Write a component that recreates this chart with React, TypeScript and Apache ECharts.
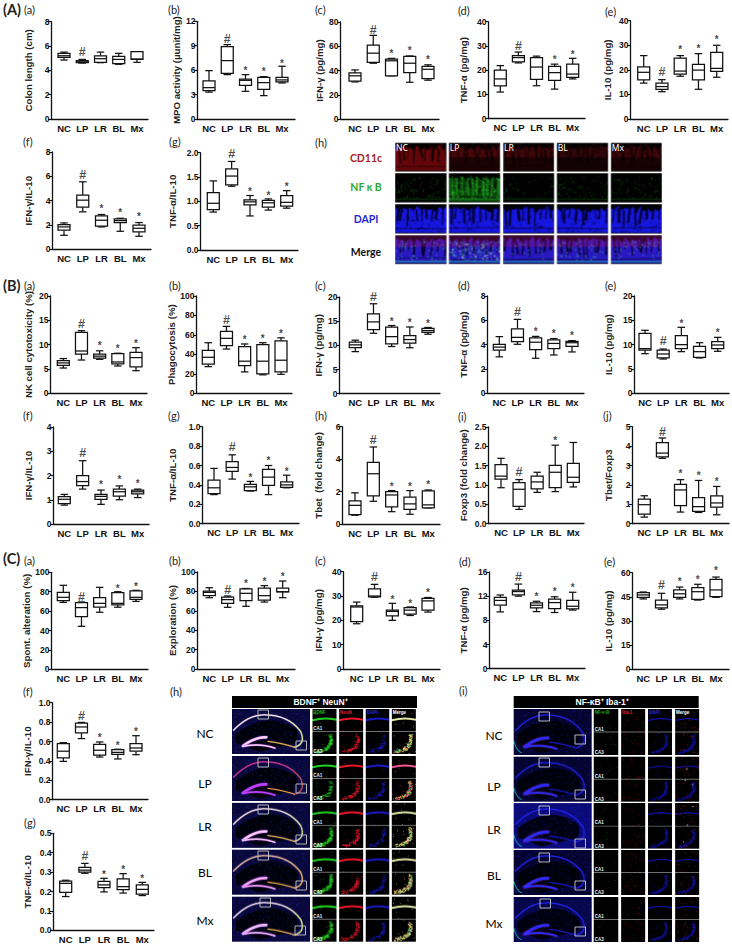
import React, { useEffect, useRef } from "react";
import * as echarts from "echarts";

const groups = ["NC", "LP", "LR", "BL", "Mx"];
const markGlyphs = ["*", "#", "*", "*", "*"];

// Each row: min, q1, median, q3, max
const Aa = [[4.85,5.07,5.2,5.4,5.5],[4.6,4.63,4.7,4.8,4.9],[4.63,4.66,4.96,5.2,5.5],[4.5,4.55,4.9,5.15,5.4],[4.66,4.9,4.93,5.53,5.53]];
const AaMarks = [null,5.5,null,null,null];
const Ab = [[3.3,3.5,3.85,4.67,5.94],[5.45,5.6,7.17,8.9,9.14],[3.4,4.14,4.75,4.9,5.45],[2.87,3.65,4.47,5.12,5.2],[4.43,4.55,4.8,5.12,6.48]];
const AbMarks = [null,9.8,6.1,5.9,7.0];
const Ac = [[30.6,31.2,35.6,38,40.5],[46,46.6,54.3,61,69],[35.6,35.6,48,49.4,50],[30.3,38.3,46,51.6,52],[32,33.4,41,43.3,44.7]];
const AcMarks = [null,73,55,57,50];
const Ad = [[11,13.5,16.4,20,21.9],[23,23.4,25.2,26,27.5],[13.6,16.2,21.3,25.2,25.8],[12.2,15.8,19,21.6,22.5],[16.4,17,18.4,22.5,24.9]];
const AdMarks = [null,30,null,25,27];
const Ae = [[14.6,15.9,19,21.2,25.8],[11.1,12.1,13.2,14.6,16],[17.4,18.3,19.5,24.8,25.8],[12.1,15.9,19.9,22.2,26.6],[17,19.4,20.6,27.1,30]];
const AeMarks = [null,19.3,28.5,29,32.8];
const Af = [[1.15,1.57,1.84,2.03,2.17],[3.08,3.46,4.04,4.45,5.55],[1.84,1.9,2.39,2.75,2.86],[1.48,2.2,2.36,2.5,2.55],[1.07,1.43,1.73,1.98,2.2]];
const AfMarks = [null,6.1,3.4,3.1,2.75];
const Ag = [[0.78,0.83,0.96,1.18,1.42],[1.31,1.34,1.52,1.67,1.82],[0.7,0.93,0.99,1.03,1.12],[0.82,0.88,0.97,1.02,1.05],[0.86,0.9,0.98,1.12,1.22]];
const AgMarks = [null,1.97,1.22,1.15,1.32];

const Ba = [[5.15,5.7,6.2,6.67,7.1],[6.8,8.04,8.66,12.5,12.85],[6.94,7.2,7.6,8,8.7],[5.57,6,6.4,8.1,8.2],[4.6,5.4,7.3,8.4,9.35]];
const BaMarks = [null,14.2,9.9,9.3,10.4];
const Bb = [[27.4,30,37,44,52],[45.5,49,56.5,63.7,68.8],[22,28.4,33,48,50.7],[19,20,33,50,52],[19.5,22,34,53.8,57]];
const BbMarks = [null,75,56.5,57.5,62.7];
const Bc = [[8.7,9.55,10.1,10.65,11.07],[12.5,13.26,14.85,16.5,18.6],[9.76,10.3,11.8,13.75,14.1],[9.5,10.45,11.2,12,13.8],[12.3,12.7,13.06,13.5,13.7]];
const BcMarks = [null,19.9,15.2,14.85,14.7];
const Bd = [[3,3.56,3.8,4.03,4.66],[4.03,4.25,4.6,5.3,6.08],[2.88,3.6,4.2,4.55,4.68],[3.15,3.67,4.1,4.4,4.5],[3.4,3.86,4.16,4.27,4.33]];
const BdMarks = [null,6.7,5.2,5,4.85];
const Be = [[8.15,8.9,9.18,12.33,12.95],[7.05,7.26,8.08,8.9,9.1],[8.56,9.18,10,11.85,13.56],[7.26,7.4,8.56,9.66,10.4],[8.63,9.18,9.93,10.6,11.5]];
const BeMarks = [null,10.75,14.5,null,12.67];
const Bf = [[0.78,0.84,1.02,1.13,1.22],[1.44,1.58,1.75,2,2.61],[0.81,1.02,1.14,1.22,1.4],[1,1.15,1.33,1.44,1.57],[1.09,1.24,1.33,1.4,1.44]];
const BfMarks = [null,2.94,1.66,1.86,1.72];
const Bg = [[0.3,0.31,0.37,0.45,0.57],[0.46,0.54,0.58,0.64,0.71],[0.337,0.34,0.38,0.405,0.436],[0.3,0.395,0.48,0.56,0.6],[0.37,0.375,0.4,0.43,0.5]];
const BgMarks = [null,0.79,0.49,0.66,0.55];
const Bh = [[0.54,0.58,1.15,1.42,1.92],[1.4,1.73,3.1,3.8,4.75],[0.76,1.05,1.79,2,2.06],[0.6,0.9,1.24,1.65,2.06],[0.99,0.99,1.18,2.04,2.1]];
const BhMarks = [null,5.18,2.4,2.4,2.5];
const Bi = [[0.93,1.15,1.23,1.53,1.69],[0.37,0.45,0.89,1.06,1.14],[0.81,0.9,1.08,1.23,1.33],[0.83,0.93,1.33,1.51,2.03],[0.95,1.07,1.2,1.56,2.1]];
const BiMarks = [null,1.33,null,2.17,null];
const Bj = [[0.34,0.5,0.98,1.27,1.44],[3.37,3.45,3.64,4.18,4.42],[0.6,0.93,1.74,2.03,2.27],[0.58,0.64,0.88,1.34,2.23],[0.46,0.86,1.07,1.44,1.92]];
const BjMarks = [null,4.74,2.63,2.54,2.25];

const Ca = [[69,70.8,74.2,79.4,86.6],[44.3,54.3,63.6,68.7,69.4],[58.8,64,68,73.9,84.5],[64,66.3,68,79,80],[70,72,74.2,80.8,81.4]];
const CaMarks = [null,75,null,84.5,86];
const Cb = [[73.5,75.6,79,80.4,83.8],[63.6,67.7,71.5,74.2,75.3],[64.6,70.4,78,82.5,83],[69,71,75.6,83.5,86],[73.5,79.4,79.7,83.5,90.7]];
const CbMarks = [null,81.4,89,91,95.9];
const Cc = [[18.6,19.5,25.5,26,27.5],[29.5,29.6,30,32.9,34.8],[20,21.8,23.7,24.2,27],[22,22.6,24.2,25.2,25.5],[23.4,24.2,28,29,29.4]];
const CcMarks = [null,37.7,29,27.5,31.7];
const Cd = [[9.4,10.5,11.3,11.8,12.2],[12,12.2,12.76,13,14],[9.45,10.05,10.5,10.9,11.16],[9.3,9.94,10.94,11.5,11.9],[9.7,9.9,10.33,11.3,12.65]];
const CdMarks = [null,15.1,12.1,12.87,13.6];
const Ce = [[43.7,44.7,46.2,47.6,48],[37.3,38.1,40,43,47.2],[43.7,44.7,46.9,49.3,51.1],[43,43.5,48.2,50.7,52.8],[44.7,45.1,49.3,55.9,57.3]];
const CeMarks = [null,52.4,55,56.5,61.7];
const Cf = [[0.395,0.43,0.5,0.578,0.588],[0.63,0.69,0.75,0.79,0.797],[0.44,0.46,0.51,0.57,0.595],[0.42,0.467,0.488,0.515,0.52],[0.464,0.5,0.533,0.578,0.66]];
const CfMarks = [null,0.86,0.65,0.574,0.71];
const Cg = [[0.174,0.196,0.242,0.254,0.258],[0.294,0.3,0.31,0.325,0.345],[0.198,0.22,0.234,0.252,0.268],[0.192,0.21,0.225,0.265,0.292],[0.179,0.187,0.211,0.234,0.247]];
const CgMarks = [null,0.385,0.294,0.32,0.273];

// data, marks, title, yMax, yStep, decimals, then layout: axisX, endX, top, zero, firstBox, lastBox, titleOffset
const panels: any[] = [
  [Aa,AaMarks,"Colon length (cm)",8,2,0,51,148,21.7,119,64,137,23],
  [Ab,AbMarks,"MPO activity (µunit/mg)",12,3,0,197,295,21.3,119,209,282,21],
  [Ac,AcMarks,"IFN-γ (pg/mg)",80,20,0,340,439,22,119,355,428,21],
  [Ad,AdMarks,"TNF-α (pg/mg)",40,10,0,488,585,21.7,118.7,500.3,572.7,25],
  [Ae,AeMarks,"IL-10 (pg/mg)",40,10,0,630,728,20.7,119,643.7,716.7,23],
  [Af,AfMarks,"IFN-γ/IL-10",8,2,0,52,151,152,249.3,64,139,24],
  [Ag,AgMarks,"TNF-α/IL-10",2,0.5,1,200,298,152.7,250,213.3,286.7,28],
  [Ba,BaMarks,"NK cell cytotoxicity (%)",20,5,0,50,147,296,393,63.3,136,22],
  [Bb,BbMarks,"Phagocytosis (%)",100,20,0,196,292,296,393.3,208.3,281,24],
  [Bc,BcMarks,"IFN-γ (pg/mg)",20,5,0,339,440,297,393.7,355.3,428,21],
  [Bd,BdMarks,"TNF-α (pg/mg)",8,2,0,487,584,296,393.3,499.3,572,24],
  [Be,BeMarks,"IL-10 (pg/mg)",20,5,0,634,729,296,393.3,645,717.7,26],
  [Bf,BfMarks,"IFN-γ/IL-10",4,1,0,53,149,427,524,64.3,137.7,25],
  [Bg,BgMarks,"TNF-α/IL-10",1,0.2,1,202,299,426.7,523.7,214,286.7,30],
  [Bh,BhMarks,"Tbet  (fold change)",6,2,0,342,440,426.7,524,355,428.3,24],
  [Bi,BiMarks,"Foxp3 (fold change)",2.5,0.5,1,488,584,427,523.7,501,573.3,25],
  [Bj,BjMarks,"Tbet/Foxp3",5,1,0,632,729,426.7,523.7,644.3,716.7,24],
  [Ca,CaMarks,"Spont. alteration (%)",100,20,0,51,148,572.3,669.3,63.3,136,23],
  [Cb,CbMarks,"Exploration (%)",100,20,0,197,295,572,669,209.3,282.7,25],
  [Cc,CcMarks,"IFN-γ (pg/mg)",40,10,0,343,440,571.7,669,356.7,428,25],
  [Cd,CdMarks,"TNF-α (pg/mg)",16,4,0,489,585,572,668.7,500.3,572.7,26],
  [Ce,CeMarks,"IL-10 (pg/mg)",60,15,0,632,729,572.7,669.3,643.3,716,24],
  [Cf,CfMarks,"IFN-γ/IL-10",1,0.2,1,52,148,702.7,799.7,63.3,136,25],
  [Cg,CgMarks,"TNF-α/IL-10",0.5,0.1,1,53,154,833.3,930.3,65.7,142.3,26],
];

const letterLabels: any[] = [
  ["(A)",3,9,true],["(a)",24,9.5],["(b)",168,9.5],["(c)",315,9.5],["(d)",458,10],["(e)",605,11],
  ["(f)",23,141],["(g)",169,141],["(h)",315,142],
  ["(B)",3,285,true],["(a)",24,285],["(b)",169,285],["(c)",315,285],["(d)",458,285],["(e)",605,285],
  ["(f)",23,415],["(g)",168,415],["(h)",315,415],["(i)",458,416],["(j)",603,415],
  ["(C)",3,558,true],["(a)",24,560],["(b)",169,560],["(c)",315,560],["(d)",459,561],["(e)",604,561],
  ["(f)",23,691],["(g)",24,822],["(h)",170,691],["(i)",459,690],
];

const colonChannels = [["CD11c","#a81e22",158],["NF κ B","#2ea82e",187],["DAPI","#2626d0",219],["Merge","#111111",252]];
const colonCols = [[395,51.7],[448.7,51.6],[503,51.3],[556.7,51.6],[610.7,51.3]];
const colonRows = [[142.7,29],[173,29.7],[204,29.7],[235,29.3]];
const colonGreen = [0.35,1,0.16,0.35,0.3];
const colonRed = [0.9,0.6,0.55,0.4,0.5];

const hipRowsH = [[709,45,733],[756,45,783],[802.7,45.3,826],[849.7,45,872],[896.7,45,920]];
const hipRowsI = [[709,46,735],[756.7,45,786],[803,45.7,829],[850,45,875],[897,45,923]];
const hipColsH = [[312.3,24.4,"BDNF","#22b022"],[339,24.3,"NeuN","#d8202c"],[365.7,23.6,"DAPI","#2a2ae0"],[391.7,24.3,"Merge","#ffffff"]];
const hipColsI = [[593.7,24.6,"NF-κ B","#22a022"],[621,24.3,"Iba-1","#d8202c"],[648,24,"DAPI","#2a2ae0"],[675,24.3,"Merge","#ffffff"]];
const hipBoxesH = [[[258,710],[296,741]],[[258,758],[296,784]],[[258,805],[296,835]],[[258,851],[296,881]],[[260,898],[295,926]]];
const hipBoxesI = [[[539,712],[575,735]],[[539,758],[575,790]],[[539,806],[575,839]],[[539,853],[575,881]],[[540,899],[575,927]]];
const hipColorsH = [
  ["#f8e0f0","#c8f050","#ffd0ff"],["#c03090","#a06018","#c040ff"],["#f8dce8","#b8e048","#ffccff"],
  ["#e8b8a8","#e0a828","#f8a8f8"],["#f0dcf0","#c0e838","#f4c0ff"],
];
const hipBgI = ["#04042e","#04042e","#0a0a78","#04042e","#060648"];

function noise(seed: number) {
  let s = seed * 7919 + 13;
  return () => { s = (s * 16807) % 2147483647; return s / 2147483647; };
}
// Draws a decorative micrograph texture, then softens it like the resampled photo.
function paint(w: number, h: number, seed: number, draw: (c: CanvasRenderingContext2D, r: () => number) => void, blur = 1) {
  const cv = document.createElement("canvas");
  cv.width = w * 2; cv.height = h * 2;
  const c = cv.getContext("2d") as CanvasRenderingContext2D;
  c.scale(2, 2);
  draw(c, noise(seed));
  const out = document.createElement("canvas");
  out.width = cv.width; out.height = cv.height;
  const o = out.getContext("2d") as CanvasRenderingContext2D;
  o.filter = `blur(${blur}px)`;
  o.drawImage(cv, 0, 0);
  return out.toDataURL();
}
function dots(c: any, r: any, n: number, color: string, x0: number, y0: number, x1: number, y1: number, sz = 0.6) {
  c.fillStyle = color;
  for (let i = 0; i < n; i++) c.fillRect(x0 + r() * (x1 - x0), y0 + r() * (y1 - y0), sz, sz);
}
function crypts(c: any, r: any, w: number, h: number, color: string, lum: string) {
  c.fillStyle = color;
  c.beginPath();
  c.moveTo(0, h * 0.35);
  for (let i = 0; i <= 14; i++) c.lineTo((i / 14) * w, h * (0.04 + (i % 2) * 0.12 + r() * 0.14));
  c.lineTo(w, h * 0.96); c.lineTo(0, h * 0.96); c.closePath(); c.fill();
  c.strokeStyle = lum; c.lineCap = "round";
  for (let i = 0; i < 9; i++) {
    const x = ((i + 0.5 + (r() - 0.5) * 0.5) / 9) * w;
    c.lineWidth = 0.9 + r() * 1.6;
    c.beginPath(); c.moveTo(x, h * (0.05 + r() * 0.2));
    c.lineTo(x + (r() - 0.5) * 5, h * (0.45 + r() * 0.3)); c.stroke();
  }
  c.lineWidth = 0.7;
  c.beginPath(); c.moveTo(0, h * (0.78 + r() * 0.06)); c.lineTo(w, h * (0.78 + r() * 0.06)); c.stroke();
}
function colonCell(row: number, col: number, w: number, h: number) {
  return paint(w, h, row * 10 + col + 3, (c, r) => {
    c.fillStyle = "#000"; c.fillRect(0, 0, w, h);
    if (row === 0) {
      crypts(c, r, w, h, `rgb(${Math.round(110 * colonRed[col])},6,9)`, "#120001");
      dots(c, r, 70, "#801216", 0, 0, w, h * 0.6, 0.8);
      if (col > 0) { c.fillStyle = "rgba(0,0,0,0.55)"; c.fillRect(0, h * 0.5, w, h * 0.5); }
    } else if (row === 1) {
      const g = colonGreen[col];
      if (g > 0.8) {
        crypts(c, r, w, h, "#0a4a0c", "#010601");
        c.strokeStyle = "#24b824"; c.lineWidth = 0.9;
        for (let i = 0; i < 10; i++) {
          const x = ((i + 0.3 + r() * 0.4) / 10) * w;
          c.beginPath(); c.moveTo(x, h * (0.12 + r() * 0.15)); c.lineTo(x + (r() - 0.5) * 2, h * (0.7 + r() * 0.12)); c.stroke();
        }
      }
      dots(c, r, Math.round(g > 0.8 ? 60 : 170 * g), g > 0.8 ? "#38e038" : "#1c9a1c", 0, h * 0.12, w, h * 0.85, g > 0.8 ? 1 : 0.8);
      c.fillStyle = g > 0.8 ? "#1c9020" : "#0c3c0c"; c.fillRect(0, h * 0.86, w, 1);
    } else if (row === 2) {
      crypts(c, r, w, h, "#1616e0", "#000028");
      dots(c, r, 70, "#00001c", 0, h * 0.1, w, h * 0.95, 1);
    } else {
      crypts(c, r, w, h, "#2a18c0", "#060230");
      c.fillStyle = "rgba(170,20,120,0.32)"; c.fillRect(0, 0, w, h * 0.4);
      c.fillStyle = "#1a98a8"; c.fillRect(0, h * 0.88, w, 1.3);
      dots(c, r, Math.round(110 * colonGreen[col]), "#3adfa0", 0, h * 0.2, w, h * 0.85, 0.9);
      if (col === 1) dots(c, r, 22, "#ffffff", 2, h * 0.25, w, h * 0.8, 1.1);
    }
  });
}
function curve(c: any, w: number, h: number, pts: number[][]) {
  c.beginPath();
  c.moveTo(pts[0][0] * w, pts[0][1] * h);
  for (let i = 1; i + 1 < pts.length; i += 2)
    c.quadraticCurveTo(pts[i][0] * w, pts[i][1] * h, pts[i + 1][0] * w, pts[i + 1][1] * h);
}
function hippocampus(w: number, h: number, seed: number, bg: string, speck: string, arcA: string, arcB: string, dg: string, moss: string, cyan: boolean, thin: number) {
  return paint(w, h, seed, (c, r) => {
    c.fillStyle = bg; c.fillRect(0, 0, w, h);
    dots(c, r, 380, speck, 0, 0, w, h, 0.6);
    c.fillStyle = "rgba(0,0,6,0.88)";
    c.beginPath();
    c.moveTo(w * 0.05, h * 0.55); c.quadraticCurveTo(w * 0.45, h * 0.02, w * 0.82, h * 0.45);
    c.quadraticCurveTo(w * 0.88, h * 0.7, w * 0.78, h * 0.78); c.lineTo(w * 0.35, h * 0.95); c.lineTo(w * 0.05, h * 0.75);
    c.closePath(); c.fill();
    dots(c, r, 70, speck, w * 0.2, h * 0.3, w * 0.8, h * 0.75, 0.6);
    const g = c.createLinearGradient(0, 0, w, 0);
    g.addColorStop(0, arcA); g.addColorStop(0.65, arcA); g.addColorStop(1, arcB);
    c.lineCap = "round"; c.strokeStyle = g; c.lineWidth = thin; c.shadowColor = arcA; c.shadowBlur = 1.5;
    curve(c, w, h, [[0.02,0.47],[0.2,0.14],[0.4,0.13],[0.72,0.12],[0.88,0.5],[0.95,0.78],[0.8,0.85]]);
    c.stroke();
    c.strokeStyle = moss; c.lineWidth = 1;
    curve(c, w, h, [[0.46,0.72],[0.65,0.76],[0.8,0.85]]);
    c.stroke();
    c.shadowColor = "#9030e0"; c.shadowBlur = 3;
    c.strokeStyle = dg; c.lineWidth = 2.6;
    curve(c, w, h, [[0.14,0.82],[0.3,0.62],[0.44,0.63]]);
    c.stroke();
    c.lineWidth = 1.6;
    curve(c, w, h, [[0.14,0.83],[0.36,0.75],[0.55,0.87]]);
    c.stroke();
    c.shadowBlur = 0;
    if (cyan) {
      c.strokeStyle = "#20d0c0"; c.lineWidth = 0.8;
      curve(c, w, h, [[0,0.7],[0.03,0.9],[0.1,0.95]]);
      c.stroke();
    }
  }, 0.7);
}
function arcDots(c: any, r: any, w: number, h: number, n: number, color: string, spread: number, sz: number) {
  c.fillStyle = color;
  for (let i = 0; i < n; i++) {
    const t = r();
    const px = (1 - t) * (1 - t) * 0.1 + 2 * t * (1 - t) * 0.9 + t * t * 0.72;
    const py = (1 - t) * (1 - t) * 0.94 + 2 * t * (1 - t) * 0.9 + t * t * 0.56;
    c.fillRect(px * w + (r() - 0.5) * spread, py * h + (r() - 0.5) * spread, sz, sz);
  }
}
function hipSmall(kind: "h" | "i", col: number, w: number, h: number, seed: number, row: number) {
  return paint(w, h, seed, (c, r) => {
    c.fillStyle = "#000"; c.fillRect(0, 0, w, h);
    const half = h / 2;
    const colorsH = ["#20d020", "#f01828", "#1a1ac8", row === 1 ? "#f05890" : "#e0e4a8"];
    const colorsI = ["#000000", "#000000", "#1212a8", "#1212a8"];
    const stroke = kind === "h" ? colorsH[col] : colorsI[col];
    c.strokeStyle = stroke; c.lineCap = "round";
    c.lineWidth = kind === "h" ? 2 : 1.2;
    c.beginPath(); c.moveTo(0, half * 0.5); c.quadraticCurveTo(w * 0.5, half * 0.35, w, half * 0.48); c.stroke();
    if (kind === "h") {
      const dens = [row === 1 ? 70 : 150, 90, 70, 90][col];
      arcDots(c, r, w, h, dens, stroke, 3.4, 0.9);
      dots(c, r, 14, colorsH[col], 0, 0, w, h, 0.7);
      if (col === 3) {
        arcDots(c, r, w, h, 30, "#f8e840", 3.4, 0.9);
        arcDots(c, r, w, h, 20, "#f04858", 3.6, 0.9);
        arcDots(c, r, w, h, 20, "#30d058", 3.6, 0.9);
      }
    } else {
      if (col >= 2) arcDots(c, r, w, h, 120, "#0e0e90", 2.6, 1);
      dots(c, r, col === 0 ? 12 : 45, col === 0 ? "#0e600e" : col === 1 ? "#801018" : col === 2 ? "#121280" : "#901a30", 0, 0, w, h, 0.8);
      if (col === 3 && (row === 1 || row === 2)) dots(c, r, 3, "#ffffff", 4, 2, w - 2, h - 4, 1);
    }
    c.fillStyle = "#8a8a8a"; c.fillRect(0, half - 0.4, w, 0.8);
  }, 0.6);
}

function renderBox(params: any, api: any) {
  const i = api.value(0);
  const x = api.coord([i, 0])[0];
  const y = (k: number) => api.coord([i, api.value(k)])[1];
  const [lo, q1, med, q3, hi] = [y(1), y(2), y(3), y(4), y(5)];
  const ls = { stroke: "#111", lineWidth: 1.25, fill: "none" };
  const bw = 12, cap = 7.5;
  const line = (x1: number, y1: number, x2: number, y2: number) => ({ type: "line", shape: { x1, y1, x2, y2 }, style: ls });
  return {
    type: "group",
    children: [
      line(x, hi, x, q3), line(x, q1, x, lo),
      line(x - cap / 2, hi, x + cap / 2, hi), line(x - cap / 2, lo, x + cap / 2, lo),
      { type: "rect", shape: { x: x - bw / 2, y: q3, width: bw, height: q1 - q3 }, style: { stroke: "#111", lineWidth: 1.25, fill: "#fff" } },
      line(x - bw / 2, med, x + bw / 2, med),
    ],
  };
}

function buildOption() {
  const grid: any[] = [], xAxis: any[] = [], yAxis: any[] = [], series: any[] = [];
  const font = "Liberation Sans";
  panels.forEach((p, n) => {
    const [data, marks, title, yMax, yStep, dec, ax, end, top, zero, c0, c4, off] = p;
    const sp = (c4 - c0) / 4;
    const h = zero - top;
    const frame = n * 2, plot = n * 2 + 1;
    grid.push({ left: ax, top, width: end - ax, height: h });
    grid.push({ left: c0 - sp / 2, top, width: sp * 5, height: h });
    xAxis.push({
      gridIndex: frame, type: "value", min: 0, max: 1, show: true, splitLine: { show: false },
      axisTick: { show: false }, axisLabel: { show: false },
      axisLine: { show: true, onZero: false, lineStyle: { color: "#111", width: 1.3 } },
    });
    xAxis.push({
      gridIndex: plot, type: "category", data: groups, boundaryGap: true,
      axisLine: { show: false }, axisTick: { show: false },
      axisLabel: { interval: 0, margin: 4, fontFamily: font, fontWeight: "bold", fontSize: 9.5, color: "#111" },
    });
    yAxis.push({
      gridIndex: frame, type: "value", min: 0, max: yMax, interval: yStep, splitLine: { show: false },
      axisLine: { show: true, onZero: false, lineStyle: { color: "#111", width: 1.3 } },
      axisTick: { show: true, length: 3, lineStyle: { color: "#111", width: 1.1 } },
      axisLabel: { margin: 1.5, fontFamily: font, fontWeight: "bold", fontSize: 8.5, color: "#111", formatter: (v: number) => v.toFixed(dec) },
      name: title, nameLocation: "middle", nameGap: off - 5, nameRotate: 90,
      nameTextStyle: { fontFamily: font, fontWeight: "bold", fontSize: 9.7, color: "#222" },
    });
    yAxis.push({ gridIndex: plot, type: "value", min: 0, max: yMax, show: false, splitLine: { show: false } });
    series.push({
      type: "custom", xAxisIndex: plot, yAxisIndex: plot, renderItem: renderBox, clip: false,
      encode: { x: 0, y: [1, 2, 3, 4, 5] },
      data: data.map((row: number[], i: number) => [i, ...row]),
    });
    const md: any[] = [];
    marks.forEach((v: number | null, i: number) => {
      if (v === null) return;
      const sym = markGlyphs[i];
      md.push({
        value: [i, v],
        label: sym === "#"
          ? { show: true, position: "inside", formatter: sym, fontFamily: font, fontSize: 12.5, fontWeight: "bold", color: "#1a1a1a" }
          : { show: true, position: "inside", formatter: sym, fontFamily: font, fontSize: 10, fontWeight: "bold", color: "#111", offset: [0, 1] },
      });
    });
    series.push({
      type: "scatter", xAxisIndex: plot, yAxisIndex: plot, data: md, symbol: "circle", symbolSize: 1, clip: false,
      itemStyle: { color: "transparent" },
    });
  });

  const elements: any[] = [];
  const text = (t: string, x: number, y: number, size: number, fill: string, extra: any = {}) =>
    elements.push({ type: "text", x, y, silent: true, z: 20, style: { text: t, fill, fontSize: size, fontFamily: "Lato", align: "left", verticalAlign: "middle", ...extra } });
  letterLabels.forEach(([t, x, y, big]) => text(t, x, y, big ? 14.5 : 11, "#222", big ? { fontWeight: "bold" } : {}));

  colonChannels.forEach(([t, col, y]: any) => text(t, 366, y, 10.5, col, { align: "center", fontWeight: "bold", fontFamily: "Lato" }));
  colonRows.forEach(([y, h], r) => colonCols.forEach(([x, w], c) => {
    elements.push({ type: "image", x, y, silent: true, style: { image: colonCell(r, c, w, h), x: 0, y: 0, width: w, height: h } });
    if (r === 0) text(groups[c], x + 1, y + 5, 8.5, "#fff", { fontFamily: "Noto Sans" });
  }));

  const hipPanel = (kind: "h" | "i", rows: any[], cols: any[], bigX: number, bigW: number, labelX: number, boxes: any[], headX: number, headW: number, head: string) => {
    elements.push({ type: "rect", silent: true, shape: { x: headX, y: 696, width: headW, height: 12 }, style: { fill: "#000" } });
    text(head, headX + headW / 2 - 4, 702, 8.5, "#fff", { align: "center", fontWeight: "bold", fontFamily: "Liberation Sans" });
    rows.forEach(([y, h, ly], r) => {
      text(groups[r], labelX, ly, 12, "#000", { align: "center", fontFamily: "Lato" });
      const url = kind === "h"
        ? hippocampus(bigW, h, r + 40, "#08083c", "#2828a8", hipColorsH[r][0], hipColorsH[r][1], hipColorsH[r][2], "#e8a838", false, 1.2)
        : hippocampus(bigW, h, r + 60, hipBgI[r], "#2020c8", "#2222f0", "#2222f0", "#2a2aff", "#1414b0", true, 1);
      elements.push({ type: "image", x: bigX, y, silent: true, style: { image: url, x: 0, y: 0, width: bigW, height: h } });
      boxes[r].forEach(([bx, by]: number[]) =>
        elements.push({ type: "rect", silent: true, z: 10, shape: { x: bx, y: by, width: 10.5, height: 9 }, style: { fill: "none", stroke: "#c8c8c8", lineWidth: 0.9 } }));
      cols.forEach(([x, w, name, color]: any, c: number) => {
        elements.push({ type: "image", x, y, silent: true, style: { image: hipSmall(kind, c, w, h, r * 7 + c + (kind === "h" ? 100 : 200), r), x: 0, y: 0, width: w, height: h } });
        if (r === 0) text(name, x + 1, y + 3.5, 4.5, color, { fontFamily: "Liberation Sans", fontWeight: "bold" });
        if (c === 0) {
          text("CA1", x + 1, y + h / 2 - 3, 4.5, "#eee", { fontFamily: "Liberation Sans", fontWeight: "bold" });
          text("CA3", x + 1, y + h - 2.5, 4.5, "#eee", { fontFamily: "Liberation Sans", fontWeight: "bold" });
        }
      });
    });
  };
  hipPanel("h", hipRowsH, hipColsH, 232, 78, 205, hipBoxesH, 232, 185, "BDNF⁺ NeuN⁺");
  hipPanel("i", hipRowsI, hipColsI, 513.7, 78, 494, hipBoxesI, 513.7, 185, "NF-κB⁺ Iba-1⁺");

  return { animation: false, backgroundColor: "#fff", grid, xAxis, yAxis, series, graphic: { elements } };
}

export default function App() {
  const ref = useRef<HTMLDivElement>(null);
  useEffect(() => {
    const chart = echarts.init(ref.current as HTMLDivElement, undefined, { renderer: "svg" });
    chart.setOption(buildOption() as any);
    return () => chart.dispose();
  }, []);
  return <div ref={ref} style={{ position: "absolute", left: 0, top: 0, width: 732, height: 945 }} />;
}
